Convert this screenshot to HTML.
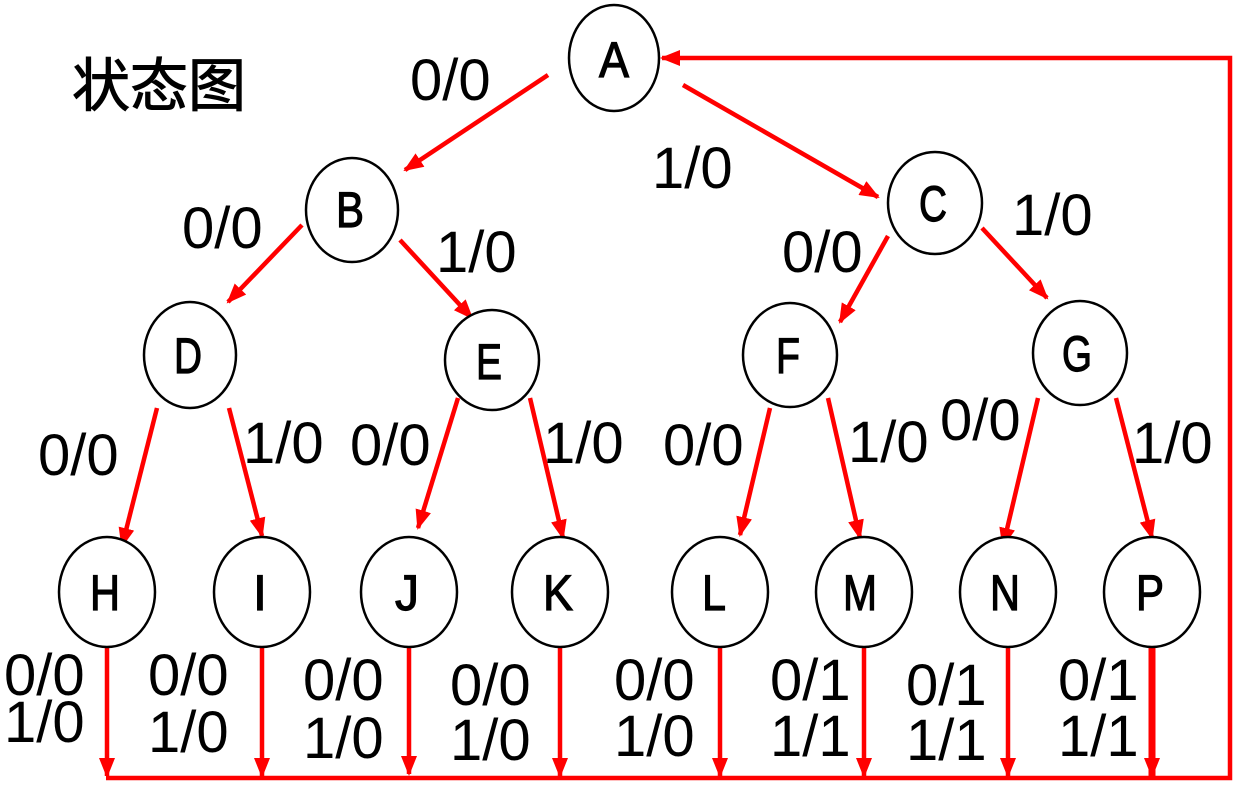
<!DOCTYPE html>
<html><head><meta charset="utf-8"><style>
html,body{margin:0;padding:0;background:#fff;}
svg{display:block;}
text{font-family:"Liberation Sans","Noto Sans CJK SC",sans-serif;fill:#000;}
.l{font-size:58px;}
.n{font-size:50px;text-anchor:middle;stroke:#000;stroke-width:1.2px;}
</style></head><body>
<svg width="1249" height="795" viewBox="0 0 1249 795" xmlns="http://www.w3.org/2000/svg">
<defs><marker id="ar" markerWidth="20" markerHeight="16" refX="18" refY="8" orient="auto" markerUnits="userSpaceOnUse"><path d="M0,0 L20,8 L0,16 z" fill="#f00"/></marker></defs>
<g stroke="#f00" stroke-width="4.5" fill="none" marker-end="url(#ar)">
<line x1="548" y1="75" x2="405" y2="170"/>
<line x1="683" y1="85" x2="878" y2="197"/>
<line x1="302" y1="225" x2="228" y2="302"/>
<line x1="400" y1="240" x2="472" y2="318"/>
<line x1="888" y1="236" x2="840" y2="322"/>
<line x1="982" y1="228" x2="1047" y2="298"/>
<line x1="157" y1="408" x2="122" y2="546"/>
<line x1="229" y1="408" x2="262" y2="536"/>
<line x1="458" y1="398" x2="418" y2="528"/>
<line x1="530" y1="398" x2="563" y2="538"/>
<line x1="770" y1="408" x2="740" y2="535"/>
<line x1="828" y1="398" x2="860" y2="538"/>
<line x1="1038" y1="398" x2="1003" y2="546"/>
<line x1="1116" y1="398" x2="1152" y2="538"/>
<line x1="107" y1="648" x2="107" y2="776"/>
<line x1="262" y1="648" x2="262" y2="776"/>
<line x1="409" y1="640" x2="409" y2="774"/>
<line x1="560" y1="648" x2="560" y2="776"/>
<line x1="720" y1="648" x2="720" y2="776"/>
<line x1="864" y1="648" x2="864" y2="776"/>
<line x1="1008" y1="648" x2="1008" y2="776"/>
<line x1="1152" y1="648" x2="1152" y2="776" stroke-width="7"/>
<polyline points="106,778 1230,778 1230,58 662,58"/>
</g>
<g stroke="#000" stroke-width="2.5" fill="#fff">
<ellipse cx="614" cy="58" rx="45" ry="53"/>
<ellipse cx="352" cy="210" rx="46" ry="52"/>
<ellipse cx="935" cy="203" rx="47" ry="51"/>
<ellipse cx="190" cy="355" rx="46" ry="53"/>
<ellipse cx="492" cy="360" rx="47" ry="50"/>
<ellipse cx="790" cy="355" rx="47" ry="52"/>
<ellipse cx="1080" cy="353" rx="47" ry="52"/>
<ellipse cx="107" cy="592" rx="48" ry="55"/>
<ellipse cx="262" cy="592" rx="48" ry="55"/>
<ellipse cx="409" cy="592" rx="48" ry="55"/>
<ellipse cx="560" cy="592" rx="48" ry="55"/>
<ellipse cx="720" cy="592" rx="48" ry="55"/>
<ellipse cx="864" cy="592" rx="48" ry="55"/>
<ellipse cx="1008" cy="592" rx="48" ry="55"/>
<ellipse cx="1152" cy="592" rx="48" ry="55"/>
</g>
<g class="n">
<text x="614" y="77" textLength="30" lengthAdjust="spacingAndGlyphs">A</text>
<text x="350" y="227" textLength="28" lengthAdjust="spacingAndGlyphs">B</text>
<text x="933" y="221" textLength="28" lengthAdjust="spacingAndGlyphs">C</text>
<text x="188" y="373" textLength="28" lengthAdjust="spacingAndGlyphs">D</text>
<text x="489" y="379" textLength="26" lengthAdjust="spacingAndGlyphs">E</text>
<text x="788" y="373" textLength="24" lengthAdjust="spacingAndGlyphs">F</text>
<text x="1077" y="371" textLength="30" lengthAdjust="spacingAndGlyphs">G</text>
<text x="105" y="610" textLength="30" lengthAdjust="spacingAndGlyphs">H</text>
<text x="260" y="610">I</text>
<text x="407" y="610" textLength="24" lengthAdjust="spacingAndGlyphs">J</text>
<text x="558" y="610" textLength="30" lengthAdjust="spacingAndGlyphs">K</text>
<text x="714" y="610" textLength="24" lengthAdjust="spacingAndGlyphs">L</text>
<text x="860" y="610" textLength="34" lengthAdjust="spacingAndGlyphs">M</text>
<text x="1005" y="610" textLength="30" lengthAdjust="spacingAndGlyphs">N</text>
<text x="1150" y="610" textLength="28" lengthAdjust="spacingAndGlyphs">P</text>
</g>
<text x="72" y="106" style="font-size:58px;font-family:'Noto Sans CJK SC',sans-serif;stroke:#000;stroke-width:1px;">状态图</text>
<g class="l">
<text x="410" y="100">0/0</text><text x="652" y="188">1/0</text>
<text x="182" y="248">0/0</text><text x="436" y="272">1/0</text>
<text x="782" y="272">0/0</text><text x="1012" y="235">1/0</text>
<text x="38" y="475">0/0</text><text x="243" y="463">1/0</text>
<text x="350" y="465">0/0</text><text x="543" y="463">1/0</text>
<text x="663" y="465">0/0</text><text x="848" y="462">1/0</text>
<text x="940" y="440">0/0</text><text x="1132" y="463">1/0</text>
<text x="4" y="695">0/0</text><text x="4" y="742">1/0</text>
<text x="148" y="695">0/0</text><text x="148" y="752">1/0</text>
<text x="303" y="700">0/0</text><text x="303" y="758">1/0</text>
<text x="450" y="705">0/0</text><text x="450" y="760">1/0</text>
<text x="614" y="700">0/0</text><text x="614" y="756">1/0</text>
<text x="770" y="700">0/1</text><text x="770" y="756">1/1</text>
<text x="906" y="705">0/1</text><text x="906" y="760">1/1</text>
<text x="1058" y="700">0/1</text><text x="1058" y="756">1/1</text>
</g>
</svg>
</body></html>
